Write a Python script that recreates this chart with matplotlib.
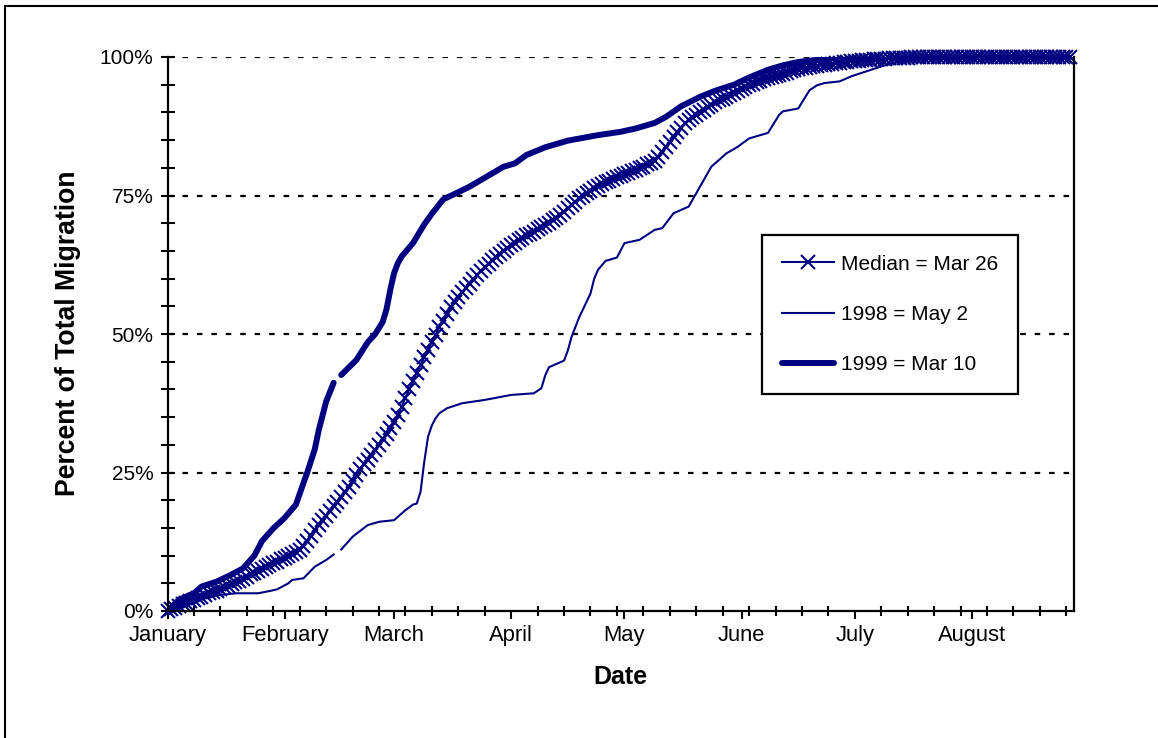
import numpy as np
import matplotlib
matplotlib.use('Agg')
import matplotlib.pyplot as plt
from matplotlib.patches import Rectangle
from matplotlib.ticker import FixedLocator, FixedFormatter

plt.rcParams['font.family'] = ['Liberation Sans', 'DejaVu Sans']

# x is day of year (leap year axis), Jan 1 = 1
month_names = ['January', 'February', 'March', 'April', 'May', 'June', 'July', 'August']
month_starts = [1, 32, 61, 92, 122, 153, 183, 214]
pct_ticks = [0, 25, 50, 75, 100]
pct_labels = ['0%', '25%', '50%', '75%', '100%']

median_days = list(range(1, 241))
median_pct = [
	0.0, 0.3, 0.6, 0.9, 1.2, 1.5, 1.8, 2.0, 2.3, 2.6,
	2.9, 3.2, 3.4, 3.7, 4.0, 4.3, 4.6, 4.9, 5.2, 5.5,
	5.8, 6.2, 6.6, 6.9, 7.3, 7.6, 7.9, 8.3, 8.6, 8.9,
	9.3, 9.6, 10.0, 10.3, 10.6, 11.0, 11.8, 12.7, 13.6, 14.6,
	15.6, 16.4, 17.2, 18.0, 18.9, 19.7, 20.5, 21.4, 22.4, 23.4,
	24.5, 25.6, 26.5, 27.3, 28.1, 29.0, 30.0, 31.0, 32.0, 33.1,
	34.2, 35.3, 36.9, 38.5, 40.0, 41.6, 43.0, 44.4, 45.8, 47.2,
	48.6, 49.9, 51.2, 52.4, 53.6, 54.8, 55.8, 56.7, 57.5, 58.3,
	59.1, 59.9, 60.7, 61.4, 62.1, 62.7, 63.3, 63.9, 64.5, 65.0,
	65.5, 66.0, 66.5, 67.0, 67.4, 67.8, 68.1, 68.5, 68.9, 69.3,
	69.7, 70.1, 70.5, 71.0, 71.5, 72.1, 72.7, 73.3, 73.9, 74.5,
	75.0, 75.5, 75.9, 76.3, 76.7, 77.1, 77.4, 77.7, 78.0, 78.3,
	78.5, 78.8, 79.1, 79.4, 79.6, 79.9, 80.2, 80.6, 80.9, 81.3,
	81.9, 82.8, 83.7, 84.6, 85.5, 86.4, 87.2, 88.0, 88.6, 89.1,
	89.6, 90.1, 90.5, 90.9, 91.3, 91.8, 92.2, 92.5, 92.8, 93.2,
	93.5, 93.8, 94.2, 94.5, 94.9, 95.2, 95.5, 95.7, 96.0, 96.2,
	96.4, 96.6, 96.8, 97.0, 97.2, 97.4, 97.6, 97.8, 98.0, 98.1,
	98.2, 98.3, 98.4, 98.5, 98.6, 98.7, 98.8, 98.9, 99.0, 99.1,
	99.1, 99.2, 99.3, 99.3, 99.4, 99.5, 99.5, 99.6, 99.6, 99.7,
	99.7, 99.8, 99.8, 99.8, 99.9, 99.9, 99.9, 100, 100, 100,
	100, 100, 100, 100, 100, 100, 100, 100, 100, 100,
	100, 100, 100, 100, 100, 100, 100, 100, 100, 100,
	100, 100, 100, 100, 100, 100, 100, 100, 100, 100,
	100, 100, 100, 100, 100, 100, 100, 100, 100, 100,
]

days_1998 = [1, 8, 14, 19, 25, 28, 30, 33, 34, 37, 40, 43, 45, 46, 47, 50, 54, 57, 61, 64,
	66, 67, 68, 69, 70, 71, 72, 73, 75, 79, 85, 92, 98, 100, 101, 102, 104, 106, 107, 108,
	110, 113, 114, 115, 117, 120, 122, 126, 130, 132, 135, 139, 142, 145, 149, 152, 155, 158, 160, 161,
	163, 164, 168, 171, 173, 175, 179, 182, 186, 190, 195, 200, 205, 240]
pct_1998 = [0, 1.8, 2.8, 3.2, 3.2, 3.6, 3.9, 5.0, 5.6, 5.9, 8.0, 9.2, 10.2, np.nan, 11.1, 13.4, 15.5, 16.1, 16.4, 18.2,
	19.2, 19.4, 21.5, 27.0, 31.5, 33.5, 34.8, 35.7, 36.6, 37.5, 38.1, 39.0, 39.3, 40.2, 42.5, 44.0, 44.6, 45.2, 47.0, 49.5,
	53.0, 57.3, 60.0, 61.6, 63.2, 63.8, 66.4, 67.0, 68.8, 69.1, 71.8, 73.0, 76.6, 80.2, 82.6, 83.8, 85.3, 85.9, 86.3, 87.4,
	89.6, 90.2, 90.7, 94.0, 94.9, 95.3, 95.6, 96.5, 97.4, 98.3, 99.2, 99.7, 100, 100]

days_1999 = [1, 4, 8, 10, 14, 18, 21, 24, 26, 29, 32, 35, 37, 38, 40, 41, 43, 45, 46, 47,
	51, 54, 56, 58, 59, 60, 61, 62, 63, 66, 69, 71, 74, 78, 81, 85, 90, 93, 96, 101,
	107, 115, 121, 125, 130, 133, 137, 142, 146, 151, 155, 160, 164, 168, 177, 186, 240]
pct_1999 = [0, 2.0, 3.2, 4.4, 5.3, 6.6, 7.7, 10.0, 12.6, 14.9, 16.8, 19.2, 23.1, 25.0, 29.2, 32.5, 37.8, 41.2, np.nan, 42.6,
	45.3, 48.5, 50.0, 52.2, 54.5, 58.0, 61.0, 62.8, 64.0, 66.4, 69.8, 71.7, 74.3, 75.6, 76.6, 78.2, 80.2, 80.8, 82.3, 83.7,
	84.9, 85.9, 86.5, 87.1, 88.1, 89.2, 91.1, 92.8, 93.9, 95.0, 96.3, 97.7, 98.5, 99.1, 99.8, 100, 100]

series_labels = ['Median = Mar 26', '1998 = May 2', '1999 = Mar 10']
navy = '#000080'

fig = plt.figure(figsize=(11.58, 7.38), dpi=100)
ax = fig.add_axes([167.5 / 1158, 127 / 738, 906 / 1158, 554 / 738])

# dotted gridlines
for p in pct_ticks[1:]:
	ax.axhline(p, color='black', lw=1.6, ls=(0, (2.5, 4)), zorder=1)

ax.plot(median_days, median_pct, color=navy, lw=1.5, marker='x', ms=9.5, mew=1.5,
	label=series_labels[0], zorder=3, clip_on=False)
ax.plot(days_1998, pct_1998, color=navy, lw=1.5, label=series_labels[1], zorder=3)
ax.plot(days_1999, pct_1999, color=navy, lw=4.3, solid_capstyle='round',
	label=series_labels[2], zorder=4)

ax.set_xlim(1, 240.9)
ax.set_ylim(0, 100)

ax.spines['top'].set_visible(False)
for s in ['left', 'bottom', 'right']:
	ax.spines[s].set_linewidth(1.6)
	ax.spines[s].set_zorder(5)

ax.xaxis.set_major_locator(FixedLocator(month_starts))
ax.xaxis.set_major_formatter(FixedFormatter(month_names))
ax.xaxis.set_minor_locator(FixedLocator(list(range(1, 241, 7))))
ax.tick_params(axis='x', which='major', direction='out', length=6, width=1.5, pad=4, labelsize=15.8)
ax.tick_params(axis='x', which='minor', direction='inout', length=7.5, width=1.5)

ax.yaxis.set_major_locator(FixedLocator(pct_ticks))
ax.yaxis.set_major_formatter(FixedFormatter(pct_labels))
ax.yaxis.set_minor_locator(FixedLocator(list(range(0, 101, 5))))
ax.tick_params(axis='y', which='both', direction='inout', length=9.5, width=1.5, pad=5.5, labelsize=15)

ax.set_xlabel('Date', fontsize=18, fontweight='bold')
ax.xaxis.set_label_coords(0.4995, -0.0975)
ax.set_ylabel('Percent of Total Migration', fontsize=19.2, fontweight='bold')
ax.yaxis.set_label_coords(-0.0955, 0.502)

leg = ax.legend(loc='upper left', bbox_to_anchor=(0.656, 0.679), fontsize=15, frameon=True,
	fancybox=False, edgecolor='black', framealpha=1, numpoints=1, handlelength=2.5,
	handletextpad=0.33, labelspacing=1.5, borderpad=0.95, borderaxespad=0)
leg.get_frame().set_linewidth(1.6)
leg.set_zorder(6)

# outer chart border
fig.add_artist(Rectangle((5 / 1158, -0.1), 1.2, 1.1 - 6 / 738, transform=fig.transFigure,
	fill=False, edgecolor='black', lw=1.5))

fig.savefig('out.png', dpi=100)
